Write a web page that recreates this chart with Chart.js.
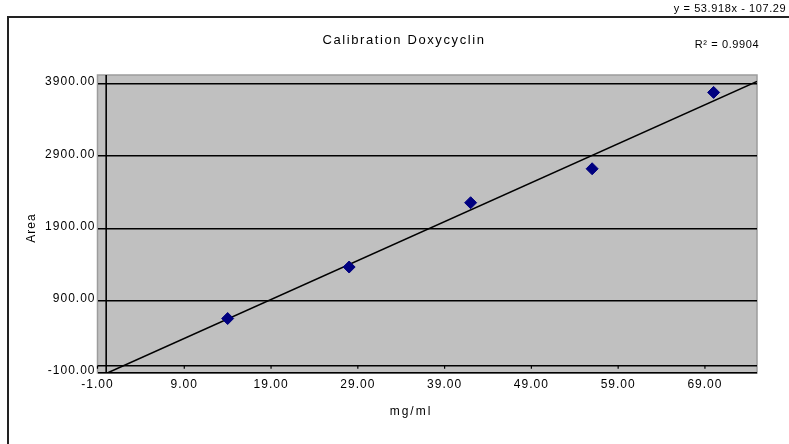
<!DOCTYPE html>
<html>
<head>
<meta charset="utf-8">
<script src="https://cdn.jsdelivr.net/npm/chart.js@4/dist/chart.umd.min.js"></script>
<style>
  html, body { margin: 0; padding: 0; background: #ffffff; }
  canvas { display: block; }
</style>
</head>
<body>
<canvas id="calib" width="789" height="444"></canvas>
<script>
// Calibration measurements: concentration (mg/ml) vs. peak area
const concentrations = [14, 28, 42, 56, 70];
const areas = [654, 1367, 2257, 2727, 3784];

// Axis tick positions
const xTicks = [-1, 9, 19, 29, 39, 49, 59, 69];
const yTicks = [-100, 900, 1900, 2900, 3900];

// Linear trendline coefficients
const slope = 53.918;
const intercept = -107.29;
const rSquared = 0.9904;
const trendFrom = 0;
const trendTo = 75;

const chartTitle = 'Calibration Doxycyclin';
const xTitle = 'mg/ml';
const yTitle = 'Area';

const FONT = "'Liberation Sans', Arial, sans-serif";
Chart.defaults.font.family = FONT;
Chart.defaults.color = '#000';

const points = concentrations.map((x, i) => ({ x: x, y: areas[i] }));
const trend = [trendFrom, trendTo].map(x => ({ x: x, y: slope * x + intercept }));

const fmt2 = v => Number(v).toFixed(2);

const decor = {
  id: 'decor',
  beforeDraw(chart) {
    const ctx = chart.ctx;
    const a = chart.chartArea;
    ctx.save();
    ctx.fillStyle = '#ffffff';
    ctx.fillRect(0, 0, chart.width, chart.height);
    // outer frame
    ctx.strokeStyle = '#222';
    ctx.lineWidth = 2;
    ctx.beginPath();
    ctx.moveTo(8, chart.height + 2);
    ctx.lineTo(8, 17);
    ctx.lineTo(chart.width + 2, 17);
    ctx.stroke();
    // plot area
    ctx.fillStyle = '#c0c0c0';
    ctx.fillRect(a.left, a.top, a.right - a.left, a.bottom - a.top);
    ctx.strokeStyle = '#9c9c9c';
    ctx.lineWidth = 1.5;
    ctx.strokeRect(a.left, a.top, a.right - a.left, a.bottom - a.top);
    ctx.restore();
    ctx.letterSpacing = '1px';
  },
  beforeDatasetsDraw(chart) {
    const ctx = chart.ctx;
    const a = chart.chartArea;
    const xs = chart.scales.x, ys = chart.scales.y;
    const x0 = xs.getPixelForValue(0);
    const y0 = ys.getPixelForValue(0);
    ctx.save();
    ctx.strokeStyle = '#000';
    ctx.lineWidth = 1.6;
    ctx.beginPath();
    ctx.moveTo(x0, a.top);
    ctx.lineTo(x0, a.bottom);
    ctx.moveTo(a.left, y0);
    ctx.lineTo(a.right, y0);
    ctx.stroke();
    ctx.lineWidth = 1.2;
    ctx.beginPath();
    xTicks.forEach(v => {
      const px = xs.getPixelForValue(v);
      ctx.moveTo(px, y0);
      ctx.lineTo(px, y0 + 3);
    });
    ctx.stroke();
    ctx.restore();
  },
  afterDraw(chart) {
    const ctx = chart.ctx;
    ctx.save();
    ctx.fillStyle = '#000';
    ctx.textBaseline = 'middle';
    ctx.textAlign = 'center';
    // title
    ctx.font = '13px ' + FONT;
    ctx.letterSpacing = '1.6px';
    ctx.fillText(chartTitle, 404, 40);
    // trendline equation
    ctx.font = '11px ' + FONT;
    ctx.letterSpacing = '0.6px';
    ctx.fillText('y = ' + slope + 'x - ' + Math.abs(intercept), 730, 9);
    ctx.fillText('R\u00B2 = ' + rSquared, 727, 45);
    // x axis title
    ctx.font = '12px ' + FONT;
    ctx.letterSpacing = '2px';
    ctx.fillText(xTitle, 411, 412);
    // y axis title
    ctx.translate(32, 228);
    ctx.rotate(-Math.PI / 2);
    ctx.letterSpacing = '1px';
    ctx.fillText(yTitle, 0, 0);
    ctx.restore();
  }
};

new Chart(document.getElementById('calib'), {
  type: 'scatter',
  data: {
    datasets: [
      {
        type: 'line',
        label: 'Linear trend',
        data: trend,
        borderColor: '#000',
        borderWidth: 1.5,
        pointRadius: 0,
        fill: false,
        order: 2
      },
      {
        label: 'Area',
        data: points,
        pointStyle: 'rectRot',
        pointRadius: 6,
        pointHoverRadius: 6,
        backgroundColor: '#000080',
        borderColor: '#000080',
        borderWidth: 1,
        order: 1
      }
    ]
  },
  options: {
    responsive: false,
    animation: false,
    events: [],
    layout: { padding: { left: 0, top: 75, right: 32, bottom: 0 } },
    plugins: { legend: { display: false }, title: { display: false }, tooltip: { enabled: false } },
    scales: {
      x: {
        type: 'linear',
        min: -1,
        max: 75,
        afterBuildTicks: s => { s.ticks = xTicks.map(v => ({ value: v })); },
        afterFit: s => { s.height = 71; },
        grid: { display: false, drawTicks: false },
        border: { display: false },
        ticks: {
          callback: fmt2,
          font: { size: 12 },
          padding: 4,
          maxRotation: 0,
          autoSkip: false
        }
      },
      y: {
        type: 'linear',
        min: -100,
        max: 4025,
        afterBuildTicks: s => { s.ticks = yTicks.map(v => ({ value: v })); },
        afterFit: s => { s.width = 97.5; },
        grid: { color: '#000', lineWidth: 1.6, drawTicks: false },
        border: { display: false },
        ticks: {
          callback: fmt2,
          font: { size: 12 },
          padding: 2,
          labelOffset: -2,
          autoSkip: false
        }
      }
    }
  },
  plugins: [decor]
});
</script>
</body>
</html>
